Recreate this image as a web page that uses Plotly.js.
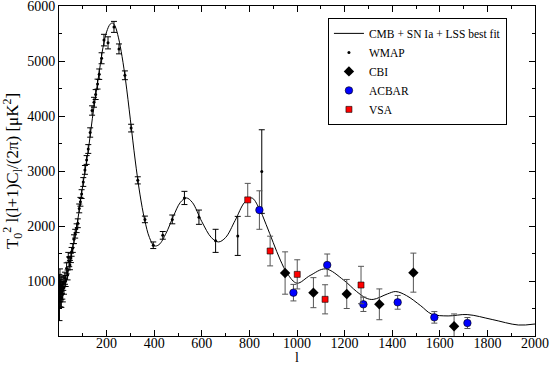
<!DOCTYPE html>
<html>
<head>
<meta charset="utf-8">
<script src="https://cdn.plot.ly/plotly-3.0.1.min.js"></script>
<style>
  body { margin: 0; background: #fff; }
  #graph { width: 550px; height: 366px; }
</style>
</head>
<body>
<div id="graph"></div>
<script>
// ----- datos -----
// curva teorica (mejor ajuste)
const fitL = [2, 10, 20, 30, 40, 50, 60, 75, 90, 100, 110, 125, 140, 155, 170, 185, 200, 215, 225, 235, 250, 265, 280, 300, 320, 340, 360, 380, 400, 420, 450, 480, 510, 535, 560, 600, 640, 670, 700, 740, 780, 810, 840, 870, 900, 930, 960, 1000, 1055, 1120, 1195, 1250, 1290, 1320, 1380, 1415, 1460, 1520, 1565, 1635, 1715, 1820, 1930, 2000];
const fitV = [850, 780, 860, 1000, 1200, 1420, 1650, 2000, 2450, 2740, 3020, 3440, 3950, 4400, 4830, 5250, 5530, 5670, 5690, 5640, 5420, 5080, 4640, 3930, 3200, 2580, 2110, 1790, 1640, 1660, 1870, 2170, 2430, 2510, 2430, 2080, 1790, 1710, 1790, 2100, 2430, 2510, 2330, 2030, 1700, 1380, 1130, 960, 1100, 1220, 1020, 810, 690, 665, 765, 808, 735, 550, 400, 365, 390, 300, 200, 218];

// WMAP
const wmapL = [2, 4, 6, 8, 10, 12, 14, 16, 18, 21, 25, 28, 32, 36, 39, 43, 46, 50, 53, 58, 63, 68, 74, 79, 85, 90, 95, 102, 109, 116, 123, 131, 139, 147, 154, 162, 169, 179, 189, 206, 231, 252, 277, 303, 331, 361, 396, 436, 476, 527, 588, 658, 751, 852];
const wmapV = [700, 920, 780, 860, 700, 930, 820, 760, 960, 880, 1050, 1000, 1230, 1110, 1430, 1350, 1290, 1420, 1530, 1600, 1760, 1860, 1960, 2050, 2320, 2440, 2580, 2800, 3020, 3200, 3400, 3700, 4100, 4250, 4390, 4580, 4760, 5050, 5380, 5330, 5620, 5220, 4740, 3780, 2830, 2120, 1650, 1830, 2120, 2510, 2160, 1730, 1820, 2990];
const wmapE = [420, 300, 250, 200, 180, 160, 150, 140, 130, 120, 110, 100, 100, 90, 90, 90, 85, 85, 80, 80, 80, 80, 80, 80, 80, 80, 80, 80, 80, 80, 80, 85, 85, 90, 90, 90, 95, 100, 105, 110, 100, 90, 80, 70, 65, 60, 60, 70, 80, 120, 130, 210, 355, 760];

// CBI
const cbiL = [950, 1069, 1209, 1346, 1489, 1660];
const cbiV = [1145, 788, 764, 576, 1152, 176];
const cbiE = [385, 273, 264, 280, 355, 225];

// ACBAR
const acbarL = [842, 985, 1127, 1279, 1423, 1577, 1716];
const acbarV = [2290, 788, 1291, 576, 612, 339, 236];
const acbarE = [350, 150, 200, 130, 125, 105, 100];

// VSA
const vsaL = [793, 887, 1001, 1118, 1269];
const vsaV = [2475, 1545, 1121, 667, 927];
const vsaE = [300, 270, 265, 265, 340];

const xTicks = [200, 400, 600, 800, 1000, 1200, 1400, 1600, 1800, 2000];
const yTicks = [1000, 2000, 3000, 4000, 5000, 6000];

const fuente = 'Liberation Serif';

function barras(arr, color) {
    return {type: 'data', array: arr, visible: true, color: color, thickness: 1, width: 3};
}

let data = [
    {
        x: fitL, y: fitV,
        mode: 'lines',
        line: {color: '#000', width: 1, shape: 'spline', smoothing: 1},
        name: 'CMB + SN Ia + LSS best fit'
    },
    {
        x: wmapL, y: wmapV,
        mode: 'markers',
        marker: {color: '#000', size: 3},
        error_y: barras(wmapE, '#000'),
        name: 'WMAP'
    },
    {
        x: cbiL, y: cbiV,
        mode: 'markers',
        marker: {color: '#000', size: 8, symbol: 'diamond'},
        error_y: barras(cbiE, '#555'),
        name: 'CBI'
    },
    {
        x: acbarL, y: acbarV,
        mode: 'markers',
        marker: {color: '#0000ff', size: 7.5, symbol: 'circle', line: {color: '#000', width: 0.6}},
        error_y: barras(acbarE, '#555'),
        name: 'ACBAR'
    },
    {
        x: vsaL, y: vsaV,
        mode: 'markers',
        marker: {color: '#ff0000', size: 6, symbol: 'square', line: {color: '#000', width: 0.6}},
        error_y: barras(vsaE, '#555'),
        name: 'VSA'
    }
];

let layout = {
    width: 550,
    height: 366,
    margin: {l: 59, r: 15, t: 6, b: 30},
    paper_bgcolor: '#fff',
    plot_bgcolor: '#fff',
    font: {family: fuente, color: '#000', size: 14},
    showlegend: true,
    legend: {
        x: 0.565, y: 0.964, xanchor: 'left', yanchor: 'top',
        bgcolor: '#fff', bordercolor: '#000', borderwidth: 1,
        font: {family: fuente, size: 11.5, color: '#000'},
        itemwidth: 30, tracegroupgap: 0
    },
    xaxis: {
        range: [0, 2000],
        tickvals: xTicks,
        ticks: 'inside', ticklen: 6, tickcolor: '#000',
        minor: {dtick: 100, ticklen: 3, tickcolor: '#000', ticks: 'inside'},
        showline: true, linecolor: '#000', linewidth: 1, mirror: 'ticks',
        showgrid: false, zeroline: false,
        ticklabeloverflow: 'allow',
        ticklabelstandoff: -6,
        tickfont: {family: fuente, size: 14}
    },
    yaxis: {
        range: [0, 6000],
        tickvals: yTicks,
        ticks: 'inside', ticklen: 6, tickcolor: '#000',
        minor: {dtick: 500, ticklen: 3, tickcolor: '#000', ticks: 'inside'},
        showline: true, linecolor: '#000', linewidth: 1, mirror: 'ticks',
        showgrid: false, zeroline: false,
        ticklabeloverflow: 'allow',
        tickfont: {family: fuente, size: 14},
        title: {text: 'T<sub>0</sub><sup>2</sup> l(l+1)C<sub>l</sub>/(2π) [μK<sup>2</sup>]', font: {family: fuente, size: 17}, standoff: 5}
    },
    annotations: [
        {text: 'l', xref: 'paper', yref: 'paper', x: 0.5, y: -0.0909, xanchor: 'center', yanchor: 'bottom',
         borderpad: 0, showarrow: false, font: {family: fuente, size: 14, color: '#000'}}
    ]
};

Plotly.newPlot('graph', data, layout, {displaylogo: false, displayModeBar: false, staticPlot: true});
</script>
</body>
</html>
